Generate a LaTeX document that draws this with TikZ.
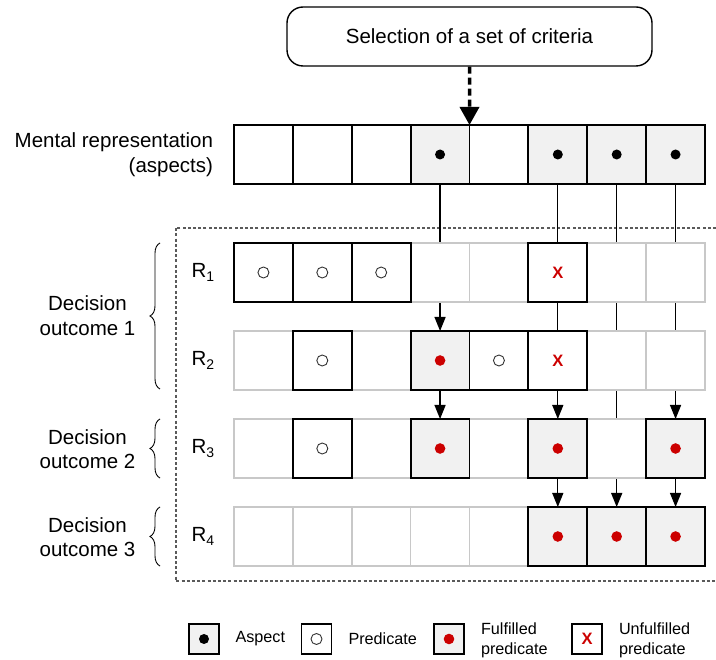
\documentclass[tikz,border=0pt]{standalone}
\usepackage{fontspec}
\setmainfont{Liberation Sans}
\usetikzlibrary{arrows.meta,decorations.pathreplacing,backgrounds}
\definecolor{redmark}{RGB}{204,0,0}
\definecolor{cellgrey}{RGB}{241,241,241}
\definecolor{faintline}{RGB}{200,200,200}
\definecolor{frameline}{RGB}{90,90,90}
\newcommand{\bigtext}{\fontsize{20.5}{24.5}\selectfont}
\newcommand{\legtext}{\fontsize{16.2}{20}\selectfont}
\newcommand{\rlab}[1]{R\raisebox{-4pt}{\fontsize{14}{14}\selectfont #1}}
\begin{document}
\begin{tikzpicture}[x=1pt,y=-1pt,
 cellbase/.style={minimum width=58.875pt,minimum height=59pt,inner sep=0pt,outer sep=0pt,fill=white},
 faintcell/.style={cellbase,draw=faintline,line width=1.5pt},
 plaincell/.style={cellbase,draw=black,line width=1.8pt},
 aspectcell/.style={plaincell,fill=cellgrey,path picture={\fill[black] (path picture bounding box.center) circle[radius=5pt];}},
 predcell/.style={plaincell,path picture={\draw[black!80,line width=0.9pt] (path picture bounding box.center) circle[radius=5.5pt];}},
 fulcell/.style={plaincell,fill=cellgrey,path picture={\fill[redmark] (path picture bounding box.center) circle[radius=5.3pt];}},
 unfulcell/.style={plaincell,text=redmark,font=\fontsize{16.5}{16.5}\selectfont\bfseries},
 legbox/.style={minimum width=30pt,minimum height=30pt,line width=1.5pt},
 conn/.style={line width=1.3pt,black},
 arrowtip/.style={-{Triangle[length=14pt,width=11pt]}},
 bracedeco/.style={decorate,decoration={brace,amplitude=10pt},line width=0.9pt},
 textlab/.style={inner sep=0pt,outer sep=0pt},
]
\useasboundingbox (0,0) rectangle (716,660);

% top box
\node[draw,rounded corners=16pt,line width=1.4pt,minimum width=365pt,minimum height=59pt,font=\bigtext] (sel) at (469.5,36.5) {Selection of a set of criteria};

% row label
\node[textlab,anchor=east,align=right,font=\bigtext] (mrl) at (213,154.5) {Mental representation\\(aspects)};

% faint cells first
\node[faintcell] (a4) at (440.06,272.5) {};
\node[faintcell] (a5) at (498.94,272.5) {};
\node[faintcell] (a7) at (616.69,272.5) {};
\node[faintcell] (a8) at (675.56,272.5) {};
\node[faintcell] (b1) at (263.44,360.5) {};
\node[faintcell] (b3) at (381.19,360.5) {};
\node[faintcell] (b7) at (616.69,360.5) {};
\node[faintcell] (b8) at (675.56,360.5) {};
\node[faintcell] (c1) at (263.44,448.5) {};
\node[faintcell] (c3) at (381.19,448.5) {};
\node[faintcell] (c5) at (498.94,448.5) {};
\node[faintcell] (c7) at (616.69,448.5) {};
\node[faintcell] (d1) at (263.44,536.5) {};
\node[faintcell] (d2) at (322.31,536.5) {};
\node[faintcell] (d3) at (381.19,536.5) {};
\node[faintcell] (d4) at (440.06,536.5) {};
\node[faintcell] (d5) at (498.94,536.5) {};

% mental representation row
\node[plaincell] (m1) at (263.44,154.5) {};
\node[plaincell] (m2) at (322.31,154.5) {};
\node[plaincell] (m3) at (381.19,154.5) {};
\node[aspectcell] (m4) at (440.06,154.5) {};
\node[plaincell] (m5) at (498.94,154.5) {};
\node[aspectcell] (m6) at (557.81,154.5) {};
\node[aspectcell] (m7) at (616.69,154.5) {};
\node[aspectcell] (m8) at (675.56,154.5) {};

% R1
\node[predcell] (a1) at (263.44,272.5) {};
\node[predcell] (a2) at (322.31,272.5) {};
\node[predcell] (a3) at (381.19,272.5) {};
\node[unfulcell] (a6) at (557.81,272.5) {X};
% R2
\node[predcell] (b2) at (322.31,360.5) {};
\node[fulcell] (b4) at (440.06,360.5) {};
\node[predcell] (b5) at (498.94,360.5) {};
\node[unfulcell] (b6) at (557.81,360.5) {X};
% R3
\node[predcell] (c2) at (322.31,448.5) {};
\node[fulcell] (c4) at (440.06,448.5) {};
\node[fulcell] (c6) at (557.81,448.5) {};
\node[fulcell] (c8) at (675.56,448.5) {};
% R4
\node[fulcell] (d6) at (557.81,536.5) {};
\node[fulcell] (d7) at (616.69,536.5) {};
\node[fulcell] (d8) at (675.56,536.5) {};

% R labels
\node[textlab,anchor=west,font=\bigtext] (r1) at (191.5,272.5) {\rlab{1}};
\node[textlab,anchor=west,font=\bigtext] (r2) at (191.5,360.5) {\rlab{2}};
\node[textlab,anchor=west,font=\bigtext] (r3) at (191.5,448.5) {\rlab{3}};
\node[textlab,anchor=west,font=\bigtext] (r4) at (191.5,536.5) {\rlab{4}};

% decision outcomes
\node[textlab,align=center,font=\bigtext] (o1) at (87.5,315.5) {Decision\\outcome 1};
\node[textlab,align=center,font=\bigtext] (o2) at (87.5,449) {Decision\\outcome 2};
\node[textlab,align=center,font=\bigtext] (o3) at (87.5,537) {Decision\\outcome 3};

% braces
\coordinate (b1top) at (160,243);
\coordinate (b1bot) at (160,389);
\coordinate (b2top) at (160,419);
\coordinate (b2bot) at (160,478);
\coordinate (b3top) at (160,507);
\coordinate (b3bot) at (160,566);
\draw[bracedeco] (b1bot) -- (b1top);
\draw[bracedeco] (b2bot) -- (b2top);
\draw[bracedeco] (b3bot) -- (b3top);

% dashed selection arrow
\draw[line width=3.5pt,dash pattern=on 7pt off 4pt,-{Triangle[length=18pt,width=19pt]}] (sel.south) -- (m4.north east);

% background: frame and connectors
\begin{pgfonlayer}{background}
\coordinate (ftr) at (716,228);
\coordinate (ftl) at (175.5,228);
\coordinate (fbl) at (175.5,581);
\coordinate (fbr) at (716,581);
\draw[frameline,line width=2pt,dash pattern=on 3pt off 2.2pt] (ftr) -- (ftl) -- (fbl) -- (fbr);
\draw[conn,arrowtip] (m4.south) -- (b4.north);
\draw[conn,arrowtip] (b4.south) -- (c4.north);
\draw[conn] (m6.south) -- (a6.north);
\draw[conn] (a6.south) -- (b6.north);
\draw[conn,arrowtip] (b6.south) -- (c6.north);
\draw[conn,arrowtip] (c6.south) -- (d6.north);
\draw[conn,arrowtip] (m7.south) -- (d7.north);
\draw[conn,arrowtip] (m8.south) -- (c8.north);
\draw[conn,arrowtip] (c8.south) -- (d8.north);
\end{pgfonlayer}

% legend
\node[aspectcell,legbox] (la) at (204,639) {};
\node[textlab,anchor=west,font=\legtext] (lat) at (235.5,639) {Aspect};
\node[predcell,legbox] (lp) at (316.5,639) {};
\node[textlab,anchor=west,font=\legtext] (lpt) at (348.5,639) {Predicate};
\node[fulcell,legbox] (lf) at (449,639) {};
\node[textlab,anchor=west,align=left,font=\legtext] (lft) at (481,640) {Fulfilled\\predicate};
\node[unfulcell,legbox] (lu) at (587,639) {X};
\node[textlab,anchor=west,align=left,font=\legtext] (lut) at (619,640) {Unfulfilled\\predicate};
\end{tikzpicture}
\end{document}
